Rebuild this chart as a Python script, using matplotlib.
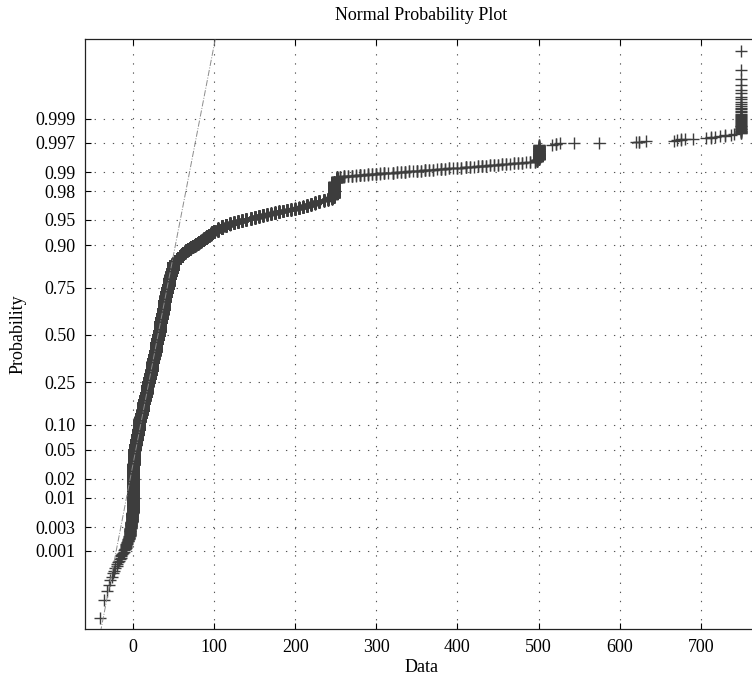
import numpy as np
import matplotlib
matplotlib.use('Agg')
import matplotlib.pyplot as plt
from statistics import NormalDist

plt.rcParams['font.family'] = 'Liberation Serif'
plt.rcParams['font.size'] = 13

# sample as distinct values + how many times each one occurs
low_vals = [-40, -35, -32, -29, -28, -26, -24, -23, -22, -20, -19, -18, -17, -16, -15,
            -14, -13, -12, -11, -10, -9, -8, -7, -6, -5, -4, -3, -2, -1]
low_counts = [1, 1, 1, 1, 1, 1, 1, 1, 1, 1, 1, 1, 1, 1, 2,
              1, 1, 1, 2, 2, 2, 3, 3, 4, 5, 7, 10, 18, 35]

body_vals = [0, 1, 2, 3, 4, 5, 6, 7, 8, 9, 10, 11, 12, 13, 14, 15, 16, 17, 18, 19, 20,
             21, 22, 23, 24, 25, 26, 27, 28, 29, 30, 31, 32, 33, 34, 35, 36, 37, 38, 39, 40,
             41, 42, 43, 44, 45, 46, 47, 48, 49, 50]
body_counts = [533, 159, 208, 159, 178, 197, 220, 242, 184, 194, 210, 216, 234, 242, 258,
               266, 284, 290, 306, 310, 366, 376, 386, 406, 410, 418, 426, 432, 438, 450,
               446, 446, 486, 492, 482, 476, 468, 468, 448, 438, 432, 412, 398, 278, 268,
               264, 248, 244, 230, 226, 212]

knee_vals = [52, 54, 56, 58, 60, 62, 64, 66, 68, 70, 72, 74, 76, 78, 80, 82, 84, 86, 88,
             90, 92, 94, 96, 98, 100]
knee_counts = [120, 118, 114, 110, 108, 72, 72, 68, 68, 68, 50, 50, 48, 48, 48, 52, 52,
               50, 50, 48, 54, 52, 50, 52, 46]

shoulder_vals = [105, 110, 115, 120, 125, 130, 135, 140, 145, 150, 155, 160, 165, 170, 175,
                 180, 185, 190, 195, 200, 205, 210, 215, 220, 225, 230, 235, 240, 245, 248, 252]
shoulder_counts = [90, 84, 46, 46, 32, 32, 32, 30, 30, 30, 28, 28, 18, 18, 26,
                   24, 18, 16, 16, 16, 22, 22, 30, 26, 28, 26, 18, 18, 24, 200, 50]

flat_vals = [255, 260, 265, 270, 275, 280, 285, 290, 295, 300, 305, 310, 315, 320, 325,
             330, 335, 340, 345, 350, 355, 360, 365, 370, 375, 380, 385, 390, 395, 400,
             405, 410, 415, 420, 425, 430, 435, 440, 445, 450, 455, 460, 465, 470, 475,
             480, 485, 490, 495]
flat_counts = [3, 4, 2, 3, 2, 4, 2, 3, 2, 3, 2, 3, 1, 3, 2,
               2, 3, 2, 1, 3, 2, 3, 2, 2, 1, 3, 2, 2, 1, 2,
               2, 3, 2, 1, 2, 3, 2, 2, 2, 2, 2, 2, 1, 2, 2,
               2, 1, 2, 2]

top_vals = [498, 500, 517, 521, 526, 544, 574, 620, 624, 633, 667, 671, 675, 681, 690,
            706, 712, 718, 724, 730, 737, 741, 750]
top_counts = [10, 56, 1, 2, 1, 1, 1, 1, 2, 1, 1, 1, 2, 1, 1,
              1, 2, 1, 1, 2, 1, 1, 40]

prob_ticks = [0.001, 0.003, 0.01, 0.02, 0.05, 0.10, 0.25, 0.50, 0.75, 0.90, 0.95,
              0.98, 0.99, 0.997, 0.999]
prob_labels = ['0.001', '0.003', '0.01', '0.02', '0.05', '0.10', '0.25', '0.50', '0.75',
               '0.90', '0.95', '0.98', '0.99', '0.997', '0.999']
x_ticks = [0, 100, 200, 300, 400, 500, 600, 700]

values = np.concatenate([low_vals, body_vals, knee_vals, shoulder_vals, flat_vals, top_vals])
counts = np.concatenate([low_counts, body_counts, knee_counts, shoulder_counts, flat_counts, top_counts])
data = np.sort(np.repeat(values, counts))

nd = NormalDist()
n = data.size
prob = (np.arange(1, n + 1) - 0.5) / n
z = np.array([nd.inv_cdf(p) for p in prob])

# line through the quartiles, extended over the data range
q1, q3 = np.percentile(data, [25, 75])
z1, z3 = nd.inv_cdf(0.25), nd.inv_cdf(0.75)
slope = (z3 - z1) / (q3 - q1)
xl = np.array([data.min(), data.max()])
yl = z1 + slope * (xl - q1)

fig = plt.figure(figsize=(7.52, 6.77), dpi=100)
ax = fig.add_axes([0.113, 0.0705, 0.8945, 0.8715])

ax.plot(data, z, linestyle='none', marker='+', markersize=8.2, markeredgewidth=1.0,
        color='#3d3d3d', zorder=2)
ax.plot(xl, yl, linestyle='-.', color='#8c8c8c', linewidth=0.7, zorder=3)

ax.set_xlim(-59, 770)
ax.set_ylim(-4.21, 4.23)
ax.set_xticks(x_ticks)
ax.set_yticks([nd.inv_cdf(p) for p in prob_ticks])
ax.set_yticklabels(prob_labels)

ax.grid(True, color='#555555', linestyle=(0, (1.2, 7)), linewidth=0.8)
ax.tick_params(direction='in', length=4, width=0.8, top=True, right=True, pad=7)
for s in ax.spines.values():
    s.set_linewidth(0.9)
    s.set_color('#222222')

ax.set_title('Normal Probability Plot', fontsize=13, pad=14)
ax.set_xlabel('Data', labelpad=2)
ax.set_ylabel('Probability', labelpad=6)

fig.savefig('out.png', dpi=100)
